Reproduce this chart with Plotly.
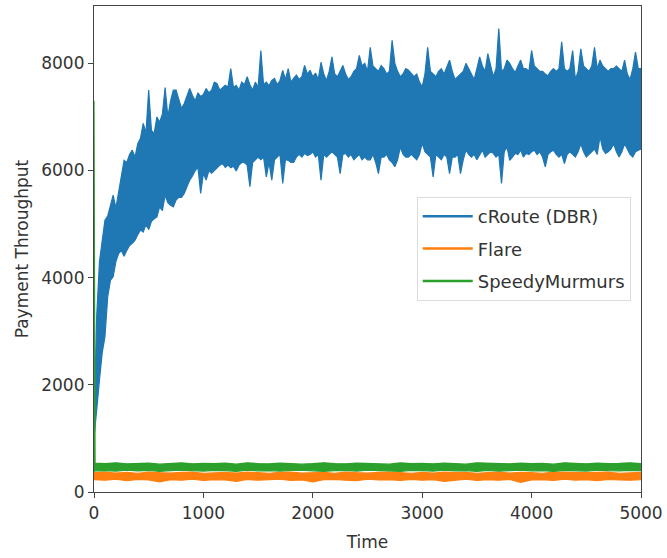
import plotly.graph_objects as go

# ---------------- data ----------------
blue_t = list(range(0, 5001, 25))
blue_hi = [
    1300, 3300, 4300, 4700, 5070, 5150, 5350, 5540,
    5300, 5600, 5900, 6190, 6150, 6300, 6380, 6250,
    6500, 6600, 6880, 6700, 7500, 6750, 6690, 7000,
    6900, 7050, 7550, 7000, 7300, 7500, 7500, 7350,
    7160, 7250, 7400, 7530, 7400, 7300, 7450, 7380,
    7420, 7530, 7450, 7500, 7650, 7620, 7500, 7550,
    7590, 7560, 7900, 7550, 7590, 7500, 7650, 7600,
    7750, 7600, 7500, 7650, 7550, 8240, 7600, 7650,
    7580, 7680, 7720, 7600, 7680, 7870, 7700, 7900,
    7650, 7720, 7780, 7700, 7750, 7960, 7800, 7870,
    7750, 7820, 7700, 8020, 7800, 7680, 7850, 8120,
    7800, 7750, 7850, 7960, 7800, 7700, 7750, 7850,
    7900, 8150, 7950, 8000, 7850, 8300, 7950, 7900,
    7850, 7960, 7900, 7800, 7850, 8430, 8000, 7850,
    7750, 7800, 7900, 7870, 7800, 7750, 7800, 7650,
    7560, 7800, 8300, 7850, 7800, 7750, 7850, 7900,
    7800, 7950, 8060, 7850, 7700, 7750, 7800, 7850,
    8000, 7900, 7800, 7700, 7900, 8120, 7950, 7850,
    8180, 7950, 7750, 7900, 8650, 7850, 7900, 8060,
    8000, 7900, 7830, 7950, 8060, 7900, 7900, 7850,
    8240, 7950, 7900, 7850, 7850, 7800, 7770, 7850,
    7900, 7850, 7900, 8400, 7900, 7850, 7900, 8240,
    7700, 7850, 8270, 7950, 7900, 7850, 7950, 8300,
    7900, 8060, 7950, 7900, 7850, 7900, 7900, 7950,
    7900, 7850, 8060, 7800, 7700, 7900, 8210, 7900,
    7900,
]
blue_lo = [
    1000, 1470, 2090, 2600, 2900, 3640, 3950, 4015,
    4300, 4450, 4510, 4400, 4510, 4600, 4640, 4700,
    4800, 4890, 4850, 4990, 4900, 5050, 5100, 5135,
    5320, 5250, 5540, 5400, 5350, 5320, 5450, 5500,
    5500, 5570, 5700, 5820, 5900, 6000, 6060, 5570,
    5950, 5820, 6000, 5950, 6000, 6050, 6100, 6130,
    6060, 6100, 6050, 6080, 5990, 6100, 6150, 6150,
    6100, 5700, 6150, 6200, 6250, 6200, 6250, 5880,
    6150, 5820, 6200, 6250, 6300, 5760, 6200, 6190,
    6150, 6150, 6250, 6300, 6250, 6320, 6280, 6300,
    6350, 6250, 6300, 5820, 6300, 6250, 6300, 6350,
    6300, 6250, 5940, 6300, 6320, 6250, 6300, 6200,
    6250, 6300, 6200, 6250, 6200, 6200, 6300, 6150,
    5940, 6250, 6250, 6300, 6200, 6150, 6070, 6200,
    6440, 6300, 6250, 6250, 6300, 6250, 6200, 6300,
    6510, 6350, 6300, 6250, 5880, 6300, 6250, 6200,
    6300, 6250, 5940, 6250, 6250, 6300, 5940, 6200,
    6380, 6300, 6250, 6300, 6200, 6300, 6380, 6250,
    6300, 6350, 6320, 6250, 6300, 5760, 6350, 6440,
    6190, 6250, 6320, 6300, 6380, 6250, 6320, 6300,
    6350, 6380, 6300, 6350, 6250, 6070, 6300, 6350,
    6380, 6300, 6250, 6300, 6130, 6300, 6350, 6300,
    6250, 6350, 6500, 6350, 6250, 6300, 6350, 6400,
    6300, 6630, 6400, 6320, 6350, 6400, 6500, 6350,
    6250, 6350, 6500, 6400, 6300, 6250, 6350, 6380,
    6400,
]

orange_t = list(range(0, 5001, 100))
orange_hi = [
    360, 370, 355, 365, 350, 370, 360, 355, 365, 370,
    350, 360, 365, 355, 370, 360, 350, 365, 370, 355,
    360, 365, 350, 370, 360, 355, 365, 370, 360, 350,
    365, 355, 370, 360, 365, 350, 360, 370, 355, 365,
    360, 350, 370, 365, 355, 360, 365, 370, 350, 360,
    365,
]
orange_lo = [
    230, 220, 240, 210, 235, 225, 190, 230, 220, 240,
    215, 230, 225, 200, 235, 220, 230, 240, 215, 225,
    190, 230, 235, 220, 210, 240, 225, 230, 215, 235,
    220, 230, 200, 225, 240, 215, 230, 220, 235, 180,
    225, 230, 215, 240, 220, 230, 210, 235, 225, 220,
    230,
]

green_t = [0, 10] + list(range(100, 5001, 100))
green_hi = [7300, 540] + [
    530, 545, 525, 535, 540, 520, 530, 545, 525, 535,
    530, 540, 520, 545, 530, 525, 540, 535, 520, 530,
    545, 530, 525, 540, 535, 530, 520, 545, 530, 535,
    525, 540, 530, 520, 545, 535, 530, 525, 540, 530,
    535, 520, 545, 530, 525, 540, 530, 535, 545, 530,
]
green_lo = [380, 395] + [
    400, 390, 410, 395, 405, 385, 400, 410, 395, 390,
    405, 400, 385, 410, 395, 400, 390, 405, 410, 395,
    385, 400, 405, 390, 410, 400, 395, 385, 405, 400,
    390, 410, 395, 400, 385, 405, 390, 400, 410, 395,
    400, 385, 405, 395, 390, 410, 400, 395, 405, 400,
]

series_names = ["cRoute (DBR)", "Flare", "SpeedyMurmurs"]
colors = ["#1f77b4", "#ff7f0e", "#2ca02c"]
x_ticks = [0, 1000, 2000, 3000, 4000, 5000]
y_ticks = [0, 2000, 4000, 6000, 8000]

FONT = "DejaVu Sans"
FS = 17
TXT = "#333"

# ---------------- figure ----------------
fig = go.Figure()
bands = [(blue_t, blue_hi, blue_lo), (orange_t, orange_hi, orange_lo),
         (green_t, green_hi, green_lo)]
for (t, hi, lo), name, c in zip(bands, series_names, colors):
    fig.add_trace(go.Scatter(
        x=t + t[::-1], y=hi + lo[::-1], mode="lines", fill="toself",
        fillcolor=c, line=dict(color=c, width=1.2), showlegend=False,
        hoverinfo="skip", name=name))

# legend entries (line samples)
for i, (name, c) in enumerate(zip(series_names, colors)):
    fig.add_trace(go.Scatter(x=[None], y=[None], mode="lines", name=name,
                             legendgroup=f"g{i}",
                             line=dict(color=c, width=2.5)))

axis_common = dict(
    showgrid=False, zeroline=False, showline=True, mirror=True,
    linecolor="#444", linewidth=1.2, ticks="outside", ticklen=5,
    tickcolor="#444", tickwidth=1.2,
    tickfont=dict(family=FONT, size=FS, color=TXT),
)
fig.update_xaxes(range=[0, 5000], tickvals=x_ticks, automargin=False,
                 title=dict(text="Time", standoff=14,
                            font=dict(family=FONT, size=FS, color=TXT)),
                 **axis_common)
fig.update_yaxes(range=[0, 9070], tickvals=y_ticks, automargin=False,
                 title=dict(text="Payment Throughput", standoff=8,
                            font=dict(family=FONT, size=FS, color=TXT)),
                 **axis_common)

fig.update_layout(
    width=667, height=558,
    margin=dict(l=94, r=26, t=6, b=66),
    plot_bgcolor="white", paper_bgcolor="white",
    legend=dict(x=0.59, y=0.607, xanchor="left", yanchor="top",
                bgcolor="rgba(255,255,255,0.85)", bordercolor="#ddd",
                borderwidth=1, tracegroupgap=6, traceorder="grouped",
                itemwidth=50,
                font=dict(family=FONT, size=18, color=TXT)),
)

fig.write_html("out.html", config={"displayModeBar": False},
               post_script="document.body.style.margin='0';")
